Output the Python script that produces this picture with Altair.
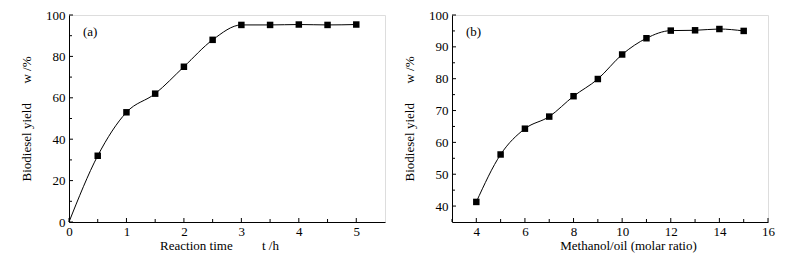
import altair as alt
import pandas as pd

# Panel (a): reaction time vs yield
time_h = [0, 0.5, 1, 1.5, 2, 2.5, 3, 3.5, 4, 4.5, 5]
yield_a = [0, 32, 53, 62, 75, 88, 95.2, 95.2, 95.4, 95.2, 95.4]

# Panel (b): methanol/oil molar ratio vs yield
ratio = [4, 5, 6, 7, 8, 9, 10, 11, 12, 13, 14, 15]
yield_b = [41.3, 56.2, 64.3, 68.1, 74.5, 79.9, 87.6, 92.7, 95.1, 95.2, 95.6, 95.0]

# axis tick positions
a_x_major = [0, 1, 2, 3, 4, 5]
a_x_minor = [0.5, 1.5, 2.5, 3.5, 4.5]
a_y_major = [0, 20, 40, 60, 80, 100]
a_y_minor = [10, 30, 50, 70, 90]
b_x_major = [4, 6, 8, 10, 12, 14, 16]
b_x_minor = [3, 5, 7, 9, 11, 13, 15]
b_y_major = [40, 50, 60, 70, 80, 90, 100]
b_y_minor = [45, 55, 65, 75, 85, 95]

FONT = "Liberation Serif"
W, H = 316, 207
NB = "\u00a0"


def panel(xs, ys, xdom, ydom, xmaj, xmin, ymaj, ymin, xtitle, ytitle, tag, titlex, show_first=True):
    df = pd.DataFrame({"x": xs, "y": ys})
    xsc = alt.Scale(domain=xdom, nice=False, zero=False)
    ysc = alt.Scale(domain=ydom, nice=False, zero=False)
    xax = alt.Axis(values=xmaj, format="d", title=xtitle, grid=False, ticks=False, domainColor="black",
                   labelOverlap=False, labelFlush=False,
                   labelFont=FONT, labelFontSize=13, labelColor="black", labelPadding=3,
                   titleFont=FONT, titleFontSize=13, titleFontWeight="normal", titleColor="black",
                   titlePadding=1, titleX=titlex)
    yax = alt.Axis(values=ymaj, format="d", title=ytitle, grid=False, ticks=False, domainColor="black",
                   labelOverlap=False, labelFlush=False,
                   labelFont=FONT, labelFontSize=13, labelColor="black", labelPadding=4,
                   titleFont=FONT, titleFontSize=13, titleFontWeight="normal", titleColor="black",
                   titlePadding=12)
    line = alt.Chart(df).mark_line(color="black", strokeWidth=1, interpolate="monotone").encode(
        x=alt.X("x:Q", scale=xsc, axis=xax),
        y=alt.Y("y:Q", scale=ysc, axis=yax),
    )
    pts_df = df.iloc[1:] if not show_first else df
    pts = alt.Chart(pts_df).mark_point(shape="square", filled=True, color="black", size=42, opacity=1).encode(
        x=alt.X("x:Q", scale=xsc, axis=xax), y=alt.Y("y:Q", scale=ysc, axis=yax)
    )
    layers = [line, pts]
    # inward ticks
    for vals, ln in ((xmaj, 4), (xmin, 3)):
        t = alt.Chart(pd.DataFrame({"v": vals})).mark_rule(color="black", strokeWidth=1).encode(
            x=alt.X("v:Q", scale=xsc, axis=xax, title=xtitle), y=alt.value(H), y2=alt.value(H - ln))
        layers.append(t)
    for vals, ln in ((ymaj, 4), (ymin, 3)):
        t = alt.Chart(pd.DataFrame({"v": vals})).mark_rule(color="black", strokeWidth=1).encode(
            y=alt.Y("v:Q", scale=ysc, axis=yax, title=ytitle), x=alt.value(0), x2=alt.value(ln))
        layers.append(t)
    lab = alt.Chart(pd.DataFrame({"t": [tag]})).mark_text(
        font=FONT, fontSize=13, color="black", align="left", baseline="middle").encode(
        text="t:N", x=alt.value(14), y=alt.value(17))
    layers.append(lab)
    return alt.layer(*layers).properties(width=W, height=H)


a = panel(time_h, yield_a, [0, 5.5], [0, 100], a_x_major, a_x_minor, a_y_major, a_y_minor,
          "Reaction time" + NB * 9 + "t /h", "Biodiesel yield" + NB * 6 + "w /%", "(a)", 150,
          show_first=False)
b = panel(ratio, yield_b, [3, 16], [35, 100], b_x_major, b_x_minor, b_y_major, b_y_minor,
          "Methanol/oil (molar ratio)", "Biodiesel yield" + NB * 6 + "w /%", "(b)", 176)

chart = alt.hconcat(a, b, spacing=17).properties(
    padding={"left": 20, "top": 8, "right": 5, "bottom": 5}
).configure_view(stroke="black", strokeWidth=1).configure(background="white")

chart.save("out.html", embed_options={"renderer": "svg", "actions": False})
